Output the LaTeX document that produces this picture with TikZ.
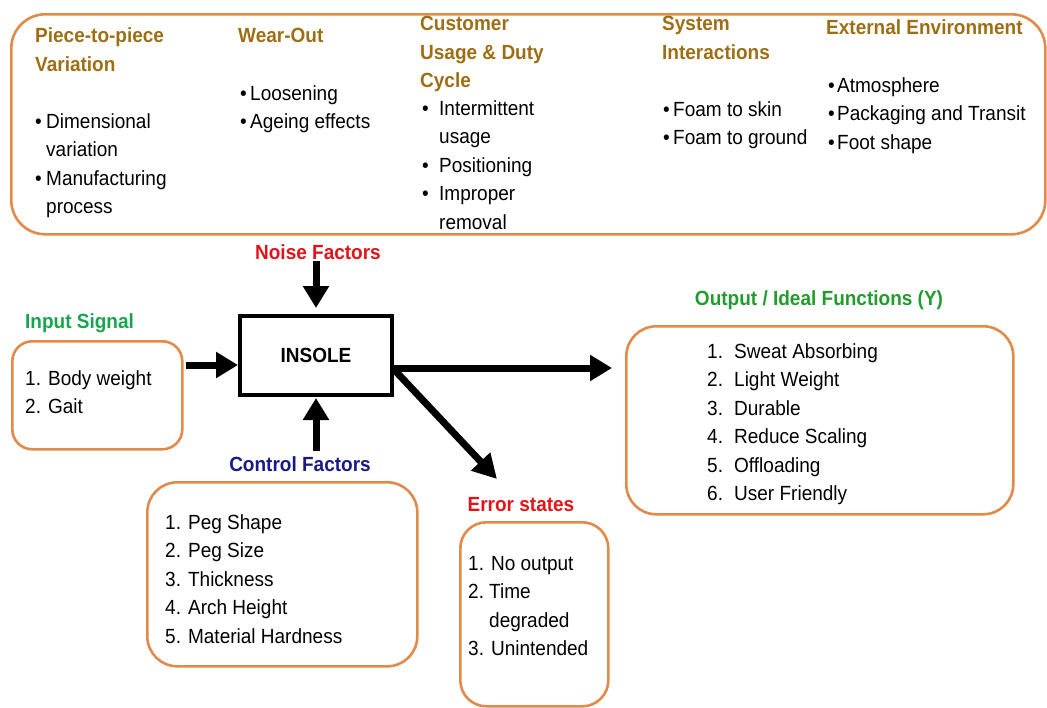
\documentclass[tikz,border=0pt]{standalone}
\usepackage{fontspec}
\setmainfont[FakeStretch=0.927]{Liberation Sans}
\usetikzlibrary{arrows.meta}
\definecolor{gold}{RGB}{158,110,20}
\definecolor{boxorange}{RGB}{226,138,74}
\definecolor{nred}{RGB}{225,20,25}
\definecolor{navy}{RGB}{25,25,135}
\definecolor{igreen}{RGB}{25,165,80}
\definecolor{ogreen}{RGB}{35,155,45}
\newcommand\bul[1]{\makebox[#1][l]{•}}
\newcommand\num[2]{\makebox[#1][l]{#2}}
\tikzset{
  txt/.style={inner sep=0pt, anchor=base west, align=left, font=\fontsize{20.5}{28.4}\selectfont},
  head/.style={txt, font=\fontsize{20.5}{28.7}\selectfont\bfseries, text=gold},
  lab/.style={inner sep=0pt, font=\fontsize{20.5}{23}\selectfont\bfseries},
  obox/.style={draw=boxorange, line width=2.6pt, rounded corners=#1, anchor=north west, inner sep=0pt},
  bigarrow/.style={line width=7pt, -{Triangle[length=22pt,width=25pt]}},
}
\begin{document}
\begin{tikzpicture}[x=1pt,y=-1pt]
\useasboundingbox (0,0) rectangle (1047,707);
% top noise box (multi-line texts are placed by the baseline of their last line)
\node[obox=34pt, minimum width=1034pt, minimum height=220pt] (noisebox) at (10,13) {};
\node[head] (h1) at (35,71.2) {Piece-to-piece\\Variation};
\node[txt] (b1) at (35,213.7) {\bul{11pt}Dimensional\\\hspace{11pt}variation\\\bul{11pt}Manufacturing\\\hspace{11pt}process};
\node[head] (h2) at (238,42.5) {Wear-Out};
\node[txt] (b2) at (240,128.9) {\bul{10pt}Loosening\\\bul{10pt}Ageing effects};
\node[head] (h3) at (420,87.9) {Customer\\Usage \& Duty\\Cycle};
\node[txt] (b3) at (422,229.1) {\bul{17pt}Intermittent\\\hspace{17pt}usage\\\bul{17pt}Positioning\\\bul{17pt}Improper\\\hspace{17pt}removal};
\node[head] (h4) at (662,59.2) {System\\Interactions};
\node[txt] (b4) at (663,144.9) {\bul{10pt}Foam to skin\\\bul{10pt}Foam to ground};
\node[head] (h5) at (826,34.5) {External Environment};
\node[txt] (b5) at (828,149.3) {\bul{9pt}Atmosphere\\\bul{9pt}Packaging and Transit\\\bul{9pt}Foot shape};
% insole
\node[draw, line width=4pt, minimum width=152pt, minimum height=79pt, inner sep=0pt, font=\fontsize{20.5}{23}\selectfont\bfseries] (insole) at (316,355.5) {INSOLE};
% noise factors
\node[lab, text=nred] (noise) at (318,252) {Noise Factors};
% input
\node[lab, text=igreen, anchor=base west] (inlab) at (25,328.5) {Input Signal};
\node[obox=20pt, minimum width=170pt, minimum height=108pt] (inbox) at (11,340) {};
\node[txt] (intext) at (25,413.9) {1. Body weight\\2. Gait};
% control
\node[lab, text=navy] (ctrl) at (300,464) {Control Factors};
\node[obox=30pt, minimum width=270pt, minimum height=184pt] (ctrlbox) at (146,481) {};
\node[txt] (ctrltext) at (165,643.1) {1. Peg Shape\\2. Peg Size\\3. Thickness\\4. Arch Height\\5. Material Hardness};
% error states
\node[lab, text=nred] (err) at (521,505) {Error states};
\node[obox=26pt, minimum width=148pt, minimum height=184pt] (errbox) at (459,521) {};
\node[txt] (errtext) at (468,655.7) {1. No output\\\num{21pt}{2.}Time\\\hspace{21pt}degraded\\3. Unintended};
% output
\node[lab, text=ogreen] (outlab) at (819,300) {Output / Ideal Functions (Y)};
\node[obox=30pt, minimum width=387pt, minimum height=188pt] (outbox) at (625,325) {};
\node[txt] (outtext) at (707,500.5) {\num{27pt}{1.}Sweat Absorbing\\\num{27pt}{2.}Light Weight\\\num{27pt}{3.}Durable\\\num{27pt}{4.}Reduce Scaling\\\num{27pt}{5.}Offloading\\\num{27pt}{6.}User Friendly};
\coordinate (errtip) at (497,479);
% arrows
\draw[bigarrow, shorten <=1pt, shorten >=6pt] (noise.south -| insole.north) -- (insole.north);
\draw[bigarrow, shorten <=2pt] ([yshift=-9.5pt]inbox.east |- insole.west) -- ([yshift=-9.5pt]insole.west);
\draw[bigarrow, shorten <=3pt, shorten >=1pt] (ctrl.north -| insole.south) ++(0,-2) -- (insole.south);
\draw[bigarrow, shorten >=13pt] ([yshift=-12.5pt]insole.east) -- ([yshift=-12.5pt]insole.east -| outbox.west);
\draw[line width=7pt, -{Triangle[length=24pt,width=25pt]}] ([yshift=-14pt]insole.east) -- (errtip);
\end{tikzpicture}
\end{document}
